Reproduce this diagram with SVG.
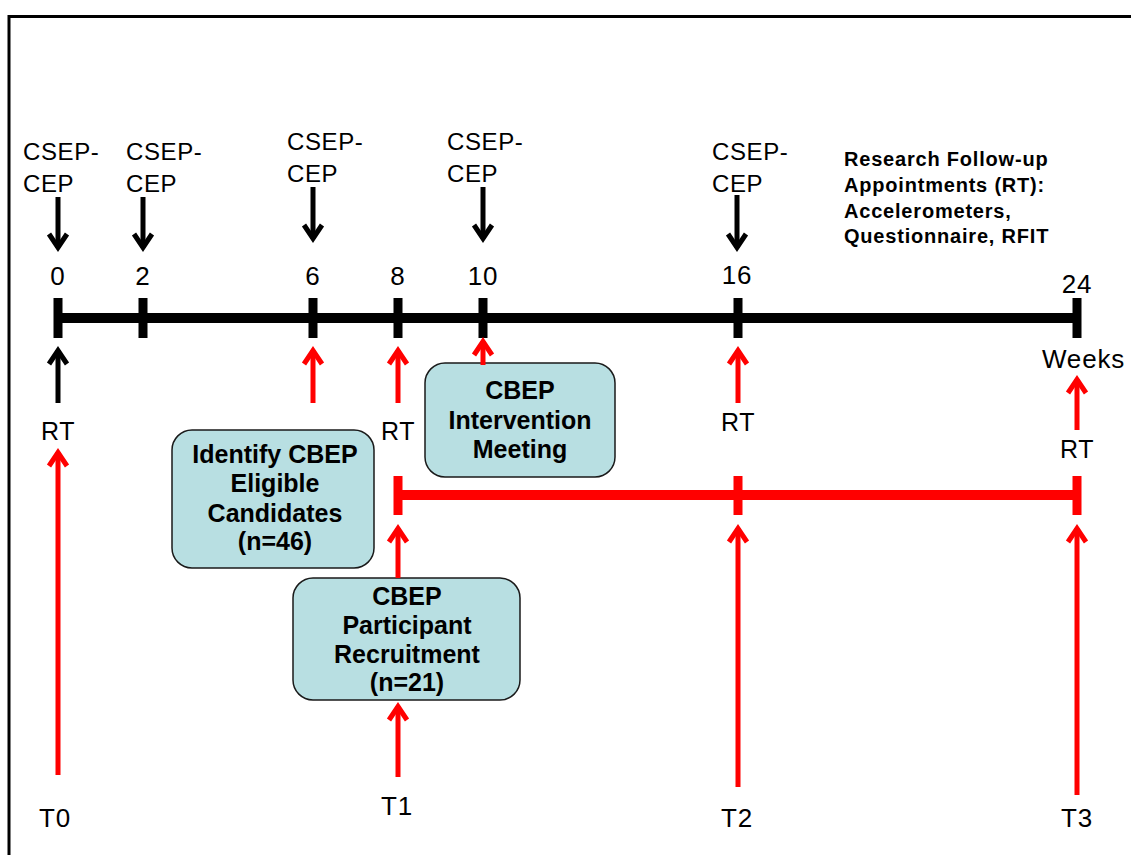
<svg xmlns="http://www.w3.org/2000/svg" width="1131" height="855" viewBox="0 0 1131 855">
<style>
.t{font-family:"Liberation Sans",Arial,sans-serif;font-size:24px;fill:#000;letter-spacing:0.6px}
.n{font-size:26px;letter-spacing:0.8px}
.c{text-anchor:middle}
.b{font-family:"Liberation Sans",Arial,sans-serif;font-weight:bold;font-size:25px;fill:#000;text-anchor:middle}
.rb{font-family:"Liberation Sans",Arial,sans-serif;font-weight:bold;font-size:20px;fill:#000;letter-spacing:0.8px}
.box{fill:#b8dfe2;stroke:#1a1a1a;stroke-width:1.5}
.ka{stroke:#000;stroke-width:5;fill:none;marker-end:url(#hk)}
.ra{stroke:#ff0000;stroke-width:5;fill:none;marker-end:url(#hr)}
</style>
<defs>
<marker id="hk" markerUnits="userSpaceOnUse" orient="auto" overflow="visible" markerWidth="1" markerHeight="1">
<path d="M-14,-9 L-0.5,0 L-14,9" fill="none" stroke="#000" stroke-width="5"/>
</marker>
<marker id="hr" markerUnits="userSpaceOnUse" orient="auto" overflow="visible" markerWidth="1" markerHeight="1">
<path d="M-14,-9 L-0.5,0 L-14,9" fill="none" stroke="#ff0000" stroke-width="5"/>
</marker>
</defs>
<rect width="1131" height="855" fill="#fff"/>
<g id="frame" stroke="#000" stroke-width="3" fill="none">
<path d="M9,855 V16.5 H1131"/>
</g>
<g id="timeline">
<line x1="58" y1="318" x2="1077" y2="318" stroke="#000" stroke-width="10"/>
<g fill="#000">
<rect x="53.5" y="298" width="9" height="40"/>
<rect x="138.5" y="298" width="9" height="40"/>
<rect x="308.5" y="298" width="9" height="40"/>
<rect x="393.5" y="298" width="9" height="40"/>
<rect x="478.5" y="298" width="9" height="40"/>
<rect x="733.5" y="298" width="9" height="40"/>
<rect x="1072.5" y="298" width="9" height="40"/>
</g>
<text class="t n c" x="58" y="285">0</text>
<text class="t n c" x="143" y="285">2</text>
<text class="t n c" x="313" y="285">6</text>
<text class="t n c" x="398" y="285">8</text>
<text class="t n c" x="483" y="285">10</text>
<text class="t n c" x="737" y="284">16</text>
<text class="t n c" x="1077" y="293">24</text>
<text class="t n" x="1042" y="368">Weeks</text>
</g>
<g id="redline">
<line x1="398" y1="495" x2="1077" y2="495" stroke="#ff0000" stroke-width="10"/>
<g fill="#ff0000">
<rect x="393.5" y="476" width="9" height="39"/>
<rect x="733.5" y="476" width="9" height="39"/>
<rect x="1072.5" y="476" width="9" height="39"/>
</g>
</g>
<g id="labels">
<text class="t" x="23" y="160">CSEP-</text><text class="t" x="23" y="192">CEP</text>
<text class="t" x="126" y="160">CSEP-</text><text class="t" x="126" y="192">CEP</text>
<text class="t" x="287" y="150">CSEP-</text><text class="t" x="287" y="182">CEP</text>
<text class="t" x="447" y="150">CSEP-</text><text class="t" x="447" y="182">CEP</text>
<text class="t" x="712" y="160">CSEP-</text><text class="t" x="712" y="192">CEP</text>
<text class="t c" x="58" y="440" style="font-size:25px">RT</text>
<text class="t c" x="398" y="440" style="font-size:25px">RT</text>
<text class="t c" x="738" y="431" style="font-size:25px">RT</text>
<text class="t c" x="1077" y="458" style="font-size:25px">RT</text>
<text class="t n c" x="55" y="827">T0</text>
<text class="t n c" x="397" y="815">T1</text>
<text class="t n c" x="737" y="827">T2</text>
<text class="t n c" x="1077" y="827">T3</text>
</g>
<g id="legend">
<text class="rb" x="844" y="166">Research Follow-up</text>
<text class="rb" x="844" y="192">Appointments (RT):</text>
<text class="rb" x="844" y="218">Accelerometers,</text>
<text class="rb" x="844" y="243">Questionnaire, RFIT</text>
</g>
<g id="node-identify">
<rect class="box" x="172" y="430" width="202" height="138" rx="20"/>
<text class="b" x="275" y="463">Identify CBEP</text>
<text class="b" x="275" y="492">Eligible</text>
<text class="b" x="275" y="522">Candidates</text>
<text class="b" x="275" y="550">(n=46)</text>
</g>
<g id="node-intervention">
<rect class="box" x="425" y="363" width="190" height="114" rx="20"/>
<text class="b" x="520" y="399">CBEP</text>
<text class="b" x="520" y="429">Intervention</text>
<text class="b" x="520" y="458">Meeting</text>
</g>
<g id="node-recruitment">
<rect class="box" x="293" y="578" width="227" height="122" rx="20"/>
<text class="b" x="407" y="605">CBEP</text>
<text class="b" x="407" y="634">Participant</text>
<text class="b" x="407" y="663">Recruitment</text>
<text class="b" x="407" y="691">(n=21)</text>
</g>
<g id="connectors">
<line class="ka" x1="58" y1="197" x2="58" y2="248"/>
<line class="ka" x1="143" y1="197" x2="143" y2="248"/>
<line class="ka" x1="313" y1="187" x2="313" y2="239"/>
<line class="ka" x1="483" y1="187" x2="483" y2="239"/>
<line class="ka" x1="737" y1="195" x2="737" y2="248"/>
<line class="ka" x1="58" y1="403" x2="58" y2="350"/>
<line class="ra" x1="313" y1="403" x2="313" y2="350"/>
<line class="ra" x1="398" y1="403" x2="398" y2="350"/>
<line class="ra" x1="483" y1="365" x2="483" y2="341"/>
<line class="ra" x1="738" y1="403" x2="738" y2="350"/>
<line class="ra" x1="1077" y1="430" x2="1077" y2="379"/>
<line class="ra" x1="58" y1="775" x2="58" y2="452"/>
<line class="ra" x1="398" y1="777" x2="398" y2="706"/>
<line class="ra" x1="398" y1="578" x2="398" y2="528"/>
<line class="ra" x1="738" y1="787" x2="738" y2="528"/>
<line class="ra" x1="1077" y1="795" x2="1077" y2="528"/>
</g>
</svg>
